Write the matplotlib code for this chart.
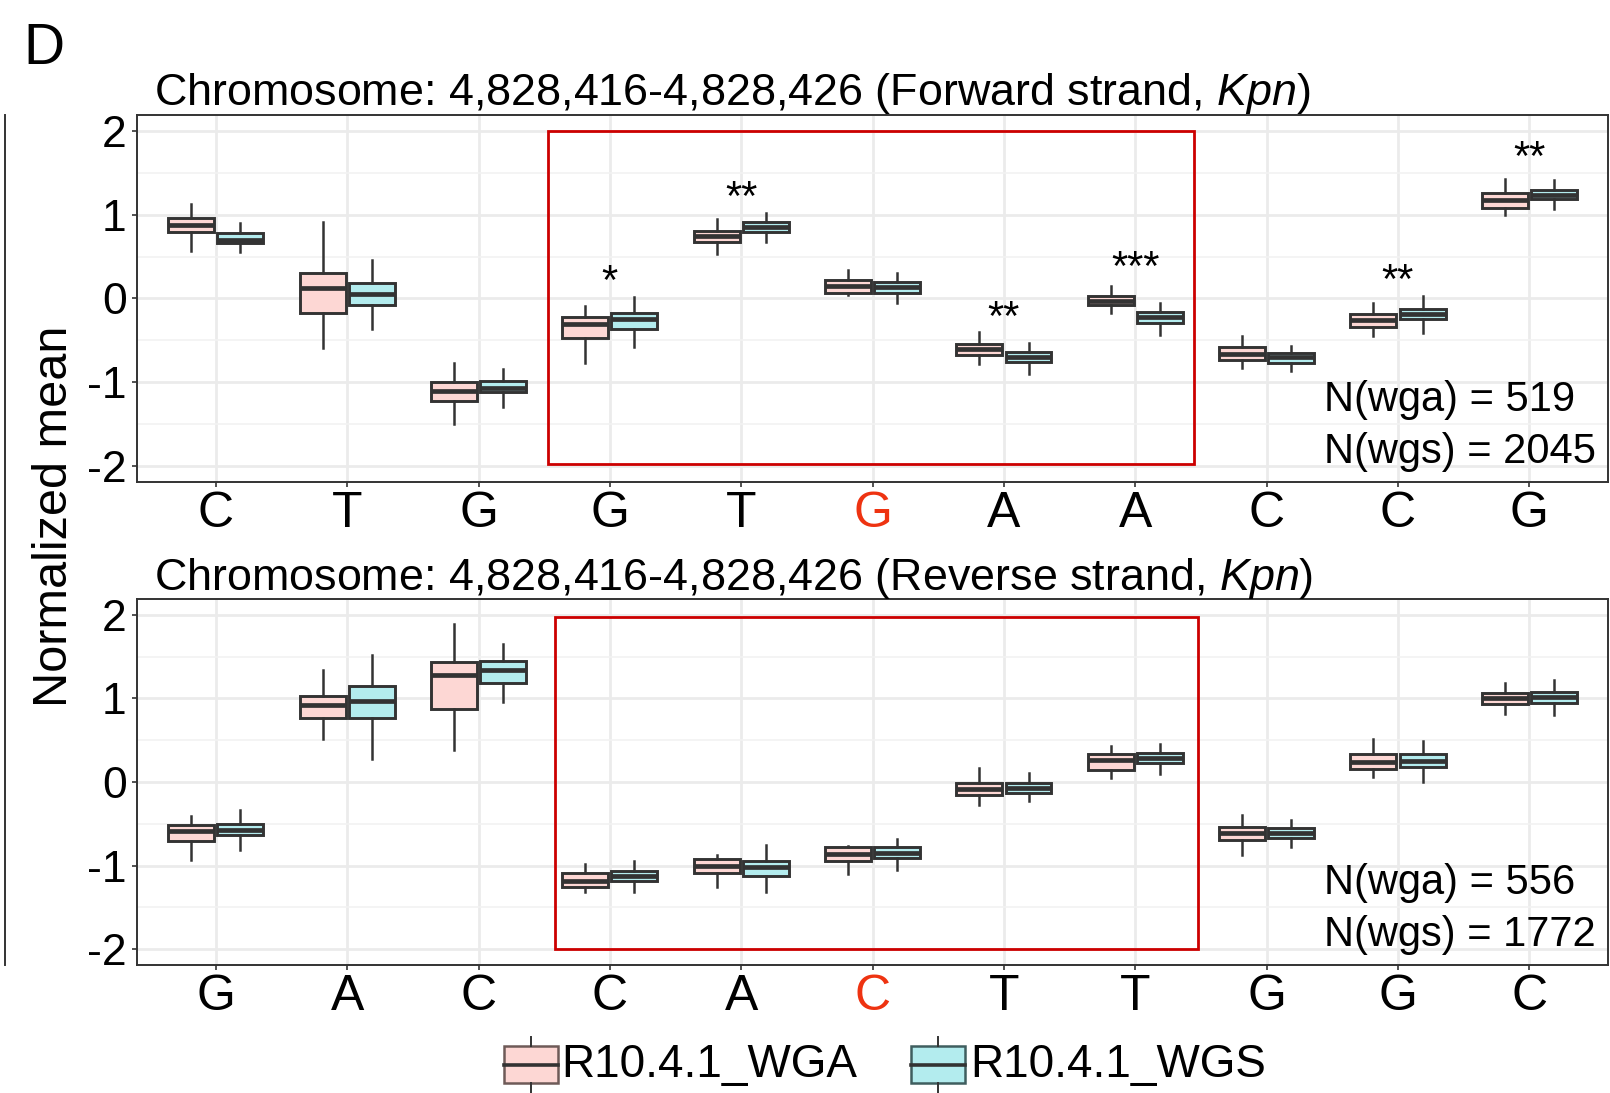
import numpy as np
import matplotlib
matplotlib.use("Agg")
import matplotlib.pyplot as plt
from matplotlib.patches import Rectangle
from matplotlib.lines import Line2D

plt.rcParams['font.family'] = ['Liberation Sans', 'DejaVu Sans']
plt.rcParams['mathtext.fontset'] = 'custom'
plt.rcParams['mathtext.rm'] = 'Liberation Sans'
plt.rcParams['mathtext.it'] = 'Liberation Sans:italic'
plt.rcParams['axes.unicode_minus'] = False

# ---- data ----
fwd_bases = ['C', 'T', 'G', 'G', 'T', 'G', 'A', 'A', 'C', 'C', 'G']
rev_bases = ['G', 'A', 'C', 'C', 'A', 'C', 'T', 'T', 'G', 'G', 'C']

fwd_wga_lo  = [0.57, -0.59, -1.50, -0.77, 0.53, 0.04, -0.78, -0.17, -0.83, -0.45, 1.00]
fwd_wga_q1  = [0.79, -0.17, -1.22, -0.47, 0.67, 0.07, -0.67, -0.08, -0.73, -0.34, 1.08]
fwd_wga_med = [0.88, 0.12, -1.10, -0.31, 0.74, 0.15, -0.60, -0.03, -0.66, -0.26, 1.18]
fwd_wga_q3  = [0.96, 0.31, -1.00, -0.22, 0.80, 0.22, -0.54, 0.03, -0.58, -0.18, 1.26]
fwd_wga_hi  = [1.13, 0.91, -0.77, -0.09, 0.95, 0.34, -0.40, 0.15, -0.45, -0.05, 1.43]

fwd_wgs_lo  = [0.55, -0.36, -1.29, -0.58, 0.67, -0.05, -0.90, -0.43, -0.87, -0.41, 1.07]
fwd_wgs_q1  = [0.66, -0.08, -1.12, -0.36, 0.79, 0.07, -0.76, -0.29, -0.77, -0.25, 1.19]
fwd_wgs_med = [0.70, 0.05, -1.07, -0.24, 0.85, 0.14, -0.70, -0.22, -0.70, -0.18, 1.23]
fwd_wgs_q3  = [0.78, 0.18, -0.98, -0.17, 0.91, 0.20, -0.64, -0.16, -0.65, -0.12, 1.30]
fwd_wgs_hi  = [0.90, 0.46, -0.84, 0.02, 1.02, 0.30, -0.53, -0.05, -0.57, 0.03, 1.41]

rev_wga_lo  = [-0.93, 0.52, 0.38, -1.32, -1.26, -1.10, -0.28, 0.05, -0.87, 0.06, 0.81]
rev_wga_q1  = [-0.71, 0.76, 0.87, -1.26, -1.09, -0.94, -0.16, 0.14, -0.70, 0.16, 0.93]
rev_wga_med = [-0.59, 0.92, 1.28, -1.18, -1.00, -0.86, -0.08, 0.26, -0.61, 0.24, 1.00]
rev_wga_q3  = [-0.52, 1.03, 1.44, -1.09, -0.92, -0.78, -0.01, 0.34, -0.54, 0.33, 1.06]
rev_wga_hi  = [-0.41, 1.34, 1.89, -0.98, -0.87, -0.76, 0.17, 0.43, -0.40, 0.51, 1.18]

rev_wgs_lo  = [-0.81, 0.27, 0.96, -1.32, -1.32, -1.05, -0.23, 0.10, -0.78, 0.00, 0.80]
rev_wgs_q1  = [-0.64, 0.77, 1.19, -1.18, -1.12, -0.91, -0.13, 0.23, -0.67, 0.18, 0.94]
rev_wgs_med = [-0.57, 0.97, 1.34, -1.13, -1.02, -0.85, -0.07, 0.29, -0.61, 0.25, 1.02]
rev_wgs_q3  = [-0.50, 1.15, 1.45, -1.07, -0.95, -0.78, -0.01, 0.35, -0.55, 0.33, 1.08]
rev_wgs_hi  = [-0.34, 1.52, 1.65, -0.94, -0.75, -0.68, 0.11, 0.46, -0.45, 0.49, 1.22]

fwd_star_pos = [4, 5, 7, 8, 10, 11]
fwd_star_lab = ['*', '**', '**', '***', '**', '**']
fwd_star_y = [0.18, 1.19, -0.24, 0.35, 0.20, 1.66]

fwd_n = [519, 2045]
rev_n = [556, 1772]

group_labels = ['R10.4.1_WGA', 'R10.4.1_WGS']

WGA_COL = '#FDD7D4'
WGS_COL = '#B3ECEE'
DARK = '#333333'
RED = '#CC0000'
HILITE = '#EE3311'

fig = plt.figure(figsize=(16.1, 10.93), dpi=100)


def stats_of(lo, q1, med, q3, hi):
    return [dict(whislo=a, q1=b, med=c, q3=d, whishi=e)
            for a, b, c, d, e in zip(lo, q1, med, q3, hi)]


def panel(rect_ax, bases, wga, wgs, n, box_x, box_y, stars=None):
    ax = fig.add_axes(rect_ax)
    x = np.arange(1, len(bases) + 1)
    for st, off, fc in [(wga, -0.1875, WGA_COL), (wgs, 0.1875, WGS_COL)]:
        ax.bxp(stats_of(*st), positions=x + off, widths=0.35,
               patch_artist=True, showfliers=False, showcaps=False,
               manage_ticks=False,
               boxprops=dict(facecolor=fc, edgecolor=DARK, linewidth=2.1),
               medianprops=dict(color=DARK, linewidth=3.4),
               whiskerprops=dict(color=DARK, linewidth=1.8))
    ax.set_xlim(0.4, len(bases) + 0.6)
    ax.set_ylim(-2.19, 2.19)
    ax.set_yticks([-2, -1, 0, 1, 2])
    ax.set_yticks([-1.5, -0.5, 0.5, 1.5], minor=True)
    ax.set_xticks(x)
    ax.set_xticklabels(bases, fontsize=36)
    ax.get_xticklabels()[5].set_color(HILITE)
    ax.tick_params(axis='y', which='major', labelsize=32, length=3.5,
                   width=1.2, color=DARK, pad=4)
    ax.tick_params(axis='x', which='major', length=3.5, width=1.2,
                   color=DARK, pad=3)
    ax.tick_params(which='minor', length=0)
    ax.grid(True, which='major', color='#EBEBEB', linewidth=2.0)
    ax.grid(True, which='minor', axis='y', color='#F2F2F2', linewidth=1.2)
    ax.set_axisbelow(True)
    for s in ax.spines.values():
        s.set_color(DARK)
        s.set_linewidth(1.4)
    ax.add_patch(Rectangle((box_x[0], box_y[0]), box_x[1] - box_x[0],
                           box_y[1] - box_y[0], fill=False,
                           edgecolor=RED, linewidth=2.0, zorder=2.5))
    if stars:
        for p, lab, yy in zip(*stars):
            ax.text(p, yy, lab, ha='center', va='center', fontsize=30)
    ax.text(9.44, -1.21, 'N(wga) = %d' % n[0], ha='left', va='center', fontsize=30)
    ax.text(9.44, -1.83, 'N(wgs) = %d' % n[1], ha='left', va='center', fontsize=30)
    return ax


ax1 = panel([0.0851, 0.559, 0.9137, 0.3358], fwd_bases,
            (fwd_wga_lo, fwd_wga_q1, fwd_wga_med, fwd_wga_q3, fwd_wga_hi),
            (fwd_wgs_lo, fwd_wgs_q1, fwd_wgs_med, fwd_wgs_q3, fwd_wgs_hi),
            fwd_n, (3.53, 8.45), (-1.98, 2.0),
            (fwd_star_pos, fwd_star_lab, fwd_star_y))
ax2 = panel([0.0851, 0.1171, 0.9137, 0.3349], rev_bases,
            (rev_wga_lo, rev_wga_q1, rev_wga_med, rev_wga_q3, rev_wga_hi),
            (rev_wgs_lo, rev_wgs_q1, rev_wgs_med, rev_wgs_q3, rev_wgs_hi),
            rev_n, (3.58, 8.48), (-2.0, 1.97))

fig.text(0.0957, 0.9039, r'Chromosome: 4,828,416-4,828,426 (Forward strand, $\mathit{Kpn}$)',
         fontsize=32.3, ha='left', va='baseline')
fig.text(0.0957, 0.4602, r'Chromosome: 4,828,416-4,828,426 (Reverse strand, $\mathit{Kpn}$)',
         fontsize=32.3, ha='left', va='baseline')
fig.text(0.0143, 0.9414, 'D', fontsize=41, ha='left', va='baseline')
fig.text(0.034, 0.528, 'Normalized mean', fontsize=35, rotation=90,
         ha='center', va='center')

# cut-off border of the neighbouring panel
fig.add_artist(Line2D([0.0031, 0.0031], [0.117, 0.895], color=DARK,
                      linewidth=1.4, transform=fig.transFigure))

# legend drawn by hand (ggplot boxplot key)
for kx, tx, fc, ec, lab in [(0.313, 0.3484, WGA_COL, '#6E5A58', group_labels[0]),
                            (0.5658, 0.6025, WGS_COL, '#3F5E5F', group_labels[1])]:
    fig.add_artist(Rectangle((kx, 0.0089), 0.0335, 0.0337, facecolor=fc,
                             edgecolor=ec, linewidth=1.8,
                             transform=fig.transFigure))
    cx = kx + 0.0335 / 2
    fig.add_artist(Line2D([kx, kx + 0.0335], [0.0256, 0.0256], color=DARK,
                          linewidth=2.6, transform=fig.transFigure))
    fig.add_artist(Line2D([cx, cx], [0.0426, 0.0512], color=DARK,
                          linewidth=1.4, transform=fig.transFigure))
    fig.add_artist(Line2D([cx, cx], [0.0, 0.0089], color=DARK,
                          linewidth=1.4, transform=fig.transFigure))
    fig.text(tx, 0.0256, lab, fontsize=33, ha='left', va='center')

fig.savefig('out.png', dpi=100)
